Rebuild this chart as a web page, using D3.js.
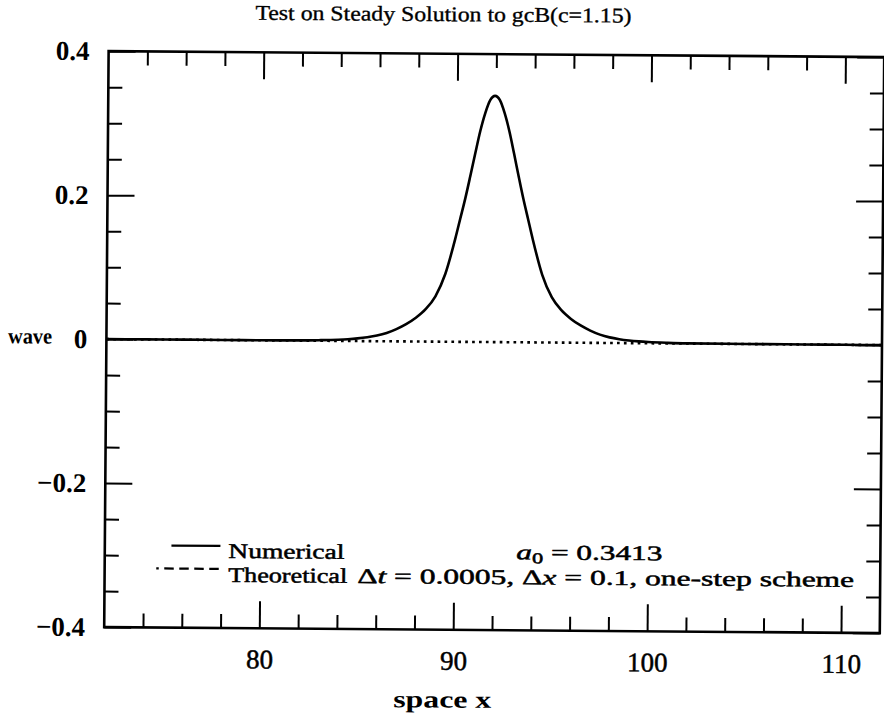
<!DOCTYPE html>
<html><head><meta charset="utf-8">
<script src="https://cdn.jsdelivr.net/npm/d3@7"></script>
<style>body{margin:0;background:#fff} svg{display:block}</style>
</head><body>
<svg id="c" width="884" height="716"></svg>
<script>
// ---- data ----
const titleText = "Test on Steady Solution to gcB(c=1.15)";
const xTitle = "space x";
const yTitle = "wave";
const xDomain = [72, 112];
const yDomain = [-0.4, 0.4];
const xMajorTicks = [80, 90, 100, 110];
const xTickLabels = ["80", "90", "100", "110"];
const xMinorTicks = [74, 76, 78, 82, 84, 86, 88, 92, 94, 96, 98, 102, 104, 106, 108];
const yMajorTicks = [-0.4, -0.2, 0, 0.2, 0.4];
const yTickLabels = ["\u22120.4", "\u22120.2", "0", "0.2", "0.4"];
const yMinorTicks = [-0.35, -0.3, -0.25, -0.15, -0.1, -0.05, 0.05, 0.1, 0.15, 0.25, 0.3, 0.35];
const numericalX = [72, 74, 76, 78, 80, 82, 82.95, 83.95, 84.45, 84.95, 85.45, 85.95, 86.45, 86.95, 87.45, 87.95, 88.45, 88.95, 89.45, 89.95, 90.2, 90.45, 90.7, 90.95, 91.2, 91.45, 91.7, 91.95, 92.2, 92.45, 92.7, 92.95, 93.2, 93.45, 93.7, 93.95, 94.45, 94.95, 95.45, 95.95, 96.45, 96.95, 97.45, 97.95, 98.45, 98.95, 99.45, 99.95, 100.95, 101.95, 104, 106, 108, 110, 112];
const numericalY = [0, 0, 0.0001, 0.0001, 0.0001, 0.0003, 0.0008, 0.0017, 0.0025, 0.0037, 0.0054, 0.0078, 0.0115, 0.017, 0.024, 0.033, 0.045, 0.063, 0.094, 0.143, 0.171, 0.199, 0.230, 0.262, 0.293, 0.318, 0.336, 0.342, 0.336, 0.318, 0.293, 0.262, 0.230, 0.199, 0.171, 0.143, 0.094, 0.063, 0.045, 0.033, 0.024, 0.017, 0.0115, 0.0078, 0.0054, 0.0037, 0.0025, 0.0017, 0.0008, 0.0003, 0.0001, 0.0001, 0, 0, 0];
const theoreticalX = [72, 76, 80, 84, 88, 92, 96, 100, 104, 108, 112];
const theoreticalY = [0, 0, 0, 0, 0, 0, 0, 0, 0, 0, 0];
const legendNames = ["Numerical", "Theoretical"];

// ---- layout ----
const L = 106.4, R = 882, T = 54.1, B = 630.1;
const FONT = "'Liberation Serif','Times New Roman',serif";
const svg = d3.select("#c");
const root = svg.append("g").attr("transform", "rotate(0.44,494,342)");

const x = d3.scaleLinear().domain(xDomain).range([L, R]);
const y = d3.scaleLinear().domain(yDomain).range([B, T]);

function styleAxis(g, w) {
  g.select(".domain").remove();
  g.selectAll(".tick line").attr("stroke", "#000").attr("stroke-width", w);
}
const MAJ = 27, MIN = 14;
// bottom
root.append("g").attr("transform", `translate(0,${B})`)
  .call(d3.axisBottom(x).tickValues(xMajorTicks).tickSizeInner(-MAJ).tickSizeOuter(0).tickPadding(21)
    .tickFormat((d, i) => xTickLabels[i]))
  .call(g => { styleAxis(g, 2); g.selectAll("text").attr("font-family", FONT).attr("font-size", 27)
    .attr("fill", "#000").attr("stroke", "#000").attr("stroke-width", 0.5); });
root.append("g").attr("transform", `translate(0,${B})`)
  .call(d3.axisBottom(x).tickValues(xMinorTicks).tickSizeInner(-MIN).tickSizeOuter(0).tickFormat(""))
  .call(g => styleAxis(g, 2));
// top
root.append("g").attr("transform", `translate(0,${T})`)
  .call(d3.axisTop(x).tickValues(xMajorTicks).tickSizeInner(-MAJ).tickSizeOuter(0).tickFormat(""))
  .call(g => styleAxis(g, 2));
root.append("g").attr("transform", `translate(0,${T})`)
  .call(d3.axisTop(x).tickValues(xMinorTicks).tickSizeInner(-MIN).tickSizeOuter(0).tickFormat(""))
  .call(g => styleAxis(g, 2));
// left
root.append("g").attr("transform", `translate(${L},0)`)
  .call(d3.axisLeft(y).tickValues(yMajorTicks).tickSizeInner(-MAJ).tickSizeOuter(0).tickPadding(19)
    .tickFormat((d, i) => yTickLabels[i]))
  .call(g => { styleAxis(g, 2); g.selectAll("text").attr("font-family", FONT).attr("font-size", 27).attr("font-weight", "bold").attr("fill", "#000"); });
root.append("g").attr("transform", `translate(${L},0)`)
  .call(d3.axisLeft(y).tickValues(yMinorTicks).tickSizeInner(-MIN).tickSizeOuter(0).tickFormat(""))
  .call(g => styleAxis(g, 2));
// right
root.append("g").attr("transform", `translate(${R},0)`)
  .call(d3.axisRight(y).tickValues(yMajorTicks).tickSizeInner(-MAJ).tickSizeOuter(0).tickFormat(""))
  .call(g => styleAxis(g, 2));
root.append("g").attr("transform", `translate(${R},0)`)
  .call(d3.axisRight(y).tickValues(yMinorTicks).tickSizeInner(-MIN).tickSizeOuter(0).tickFormat(""))
  .call(g => styleAxis(g, 2));

// frame
root.append("rect").attr("x", L).attr("y", T).attr("width", R - L).attr("height", B - T)
  .attr("fill", "none").attr("stroke", "#000").attr("stroke-width", 2.6);

// series
const theo = theoreticalX.map((d, i) => [d, theoreticalY[i]]);
const num = numericalX.map((d, i) => [d, numericalY[i]]);
root.append("path").datum(theo)
  .attr("d", d3.line().x(d => x(d[0])).y(d => y(d[1])))
  .attr("fill", "none").attr("stroke", "#000").attr("stroke-width", 2.6).attr("stroke-dasharray", "2.7,4.2");
root.append("path").datum(num)
  .attr("d", d3.line().x(d => x(d[0])).y(d => y(d[1])).curve(d3.curveMonotoneX))
  .attr("fill", "none").attr("stroke", "#000").attr("stroke-width", 2.6).attr("stroke-linejoin", "round");

// text helper
function txt(px, py, size, str, opts = {}) {
  const t = root.append("text").attr("x", px).attr("y", py).attr("font-family", FONT)
    .attr("font-size", size).attr("fill", "#000").attr("stroke", "#000").attr("stroke-width", opts.sw ?? 0.35);
  if (opts.anchor) t.attr("text-anchor", opts.anchor);
  if (opts.bold) t.attr("font-weight", "bold");
  if (opts.len) t.attr("textLength", opts.len).attr("lengthAdjust", "spacingAndGlyphs");
  if (str !== null) t.text(str);
  return t;
}

// titles
txt(441, 21.5, 21, titleText, { anchor: "middle", len: 376 });
txt(445, 708, 24, xTitle, { anchor: "middle", bold: true, len: 98, sw: 0 });
txt(8, 347, 22, yTitle, { bold: true, len: 44, sw: 0 });

// legend
root.append("line").attr("x1", 173).attr("x2", 222).attr("y1", 548).attr("y2", 548)
  .attr("stroke", "#000").attr("stroke-width", 2.2);
root.append("line").attr("x1", 158).attr("x2", 222).attr("y1", 571).attr("y2", 571)
  .attr("stroke", "#000").attr("stroke-width", 2.2)
  .attr("stroke-dasharray", "2.5,5.5,9.5,5.5,9.5,5.5,9.5,5.5,9.5,100");
txt(230, 560, 21, legendNames[0], { len: 116, sw: 0.5 });
txt(230, 584, 21, legendNames[1], { len: 119, sw: 0.5 });
const a0 = txt(518, 559, 21, null, { len: 146, sw: 0.5 });
a0.append("tspan").attr("font-style", "italic").text("a");
a0.append("tspan").attr("font-size", 15).attr("dy", 4).text("0");
a0.append("tspan").attr("dy", -4).text(" = 0.3413");
const m = txt(359, 584, 21, null, { len: 497, sw: 0.5 });
m.append("tspan").text("\u0394");
m.append("tspan").attr("font-style", "italic").text("t");
m.append("tspan").text(" = 0.0005,  \u0394");
m.append("tspan").attr("font-style", "italic").text("x");
m.append("tspan").text(" = 0.1, one-step scheme");
</script>
</body></html>
